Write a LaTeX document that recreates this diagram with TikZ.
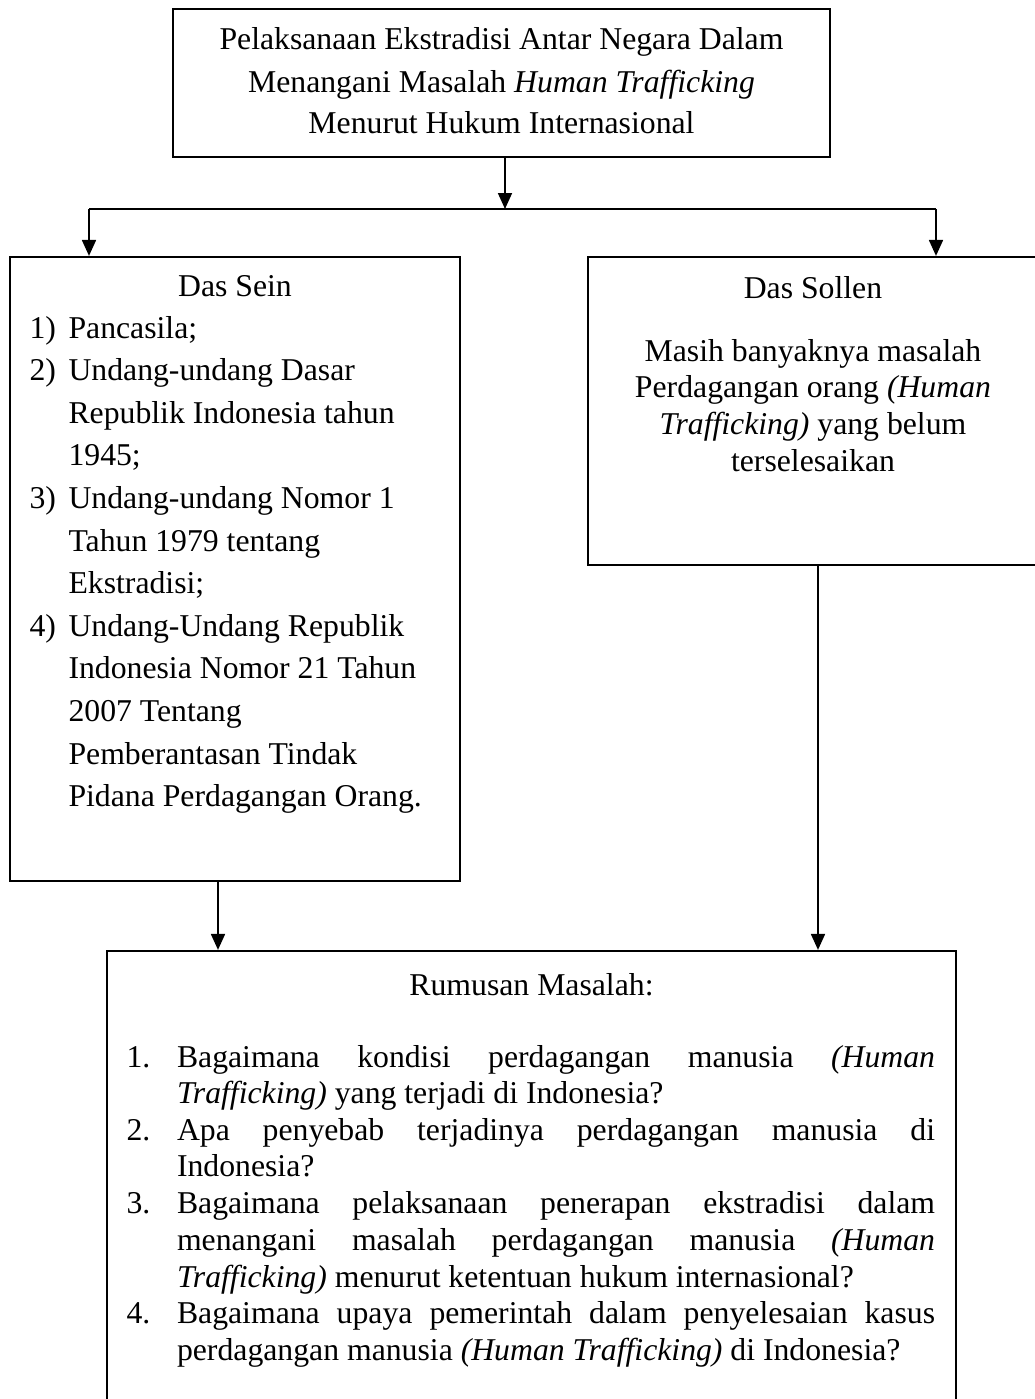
\documentclass[tikz,border=0pt]{standalone}
\usepackage{fontspec}
\setmainfont{Liberation Serif}
\usetikzlibrary{arrows.meta,fit}
\tikzset{
  box/.style={draw, line width=0.8pt, inner sep=0pt},
  conn/.style={line width=0.8pt},
  arr/.style={conn, -{Triangle[length=6pt,width=5.2pt]}},
  txt/.style={inner sep=0pt, anchor=base, font=\fontsize{11.9pt}{13.8pt}\selectfont},
  txtl/.style={txt, anchor=base west},
}
\begin{document}
\begin{tikzpicture}[x=0.375pt,y=-0.375pt]
\useasboundingbox (0,0) rectangle (1035,1399);
\clip (0,0) rectangle (1035,1399);
\fill[white] (0,0) rectangle (1035,1399);

% boxes
\node[box, fit={(173,9) (830,157)}] (top) {};
\node[box, fit={(10,257) (460,881)}] (left) {};
\node[box, fit={(588,257) (1038,565)}] (right) {};
\node[box, fit={(107,951) (956,1430)}] (bottom) {};

% top text
\node[txt] (t1) at (501.5,49) {Pelaksanaan Ekstradisi Antar Negara Dalam};
\node[txt] (t2) at (501.5,92) {Menangani Masalah \textit{Human Trafficking}};
\node[txt] (t3) at (501.5,133) {Menurut Hukum Internasional};

% left text
\node[txt] (ds) at (235,296) {Das Sein};
\node[txtl] (n1) at (29,338) {1)};
\node[txtl] (l1) at (68,338) {Pancasila;};
\node[txtl] (n2) at (29,380.6) {2)};
\node[txtl] (l2) at (68,380.6) {Undang-undang Dasar};
\node[txtl] (l3) at (68,423.2) {Republik Indonesia tahun};
\node[txtl] (l4) at (68,465.8) {1945;};
\node[txtl] (n3) at (29,508.4) {3)};
\node[txtl] (l5) at (68,508.4) {Undang-undang Nomor 1};
\node[txtl] (l6) at (68,551) {Tahun 1979 tentang};
\node[txtl] (l7) at (68,593.6) {Ekstradisi;};
\node[txtl] (n4) at (29,636.2) {4)};
\node[txtl] (l8) at (68,636.2) {Undang-Undang Republik};
\node[txtl] (l9) at (68,678.8) {Indonesia Nomor 21 Tahun};
\node[txtl] (l10) at (68,721.4) {2007 Tentang};
\node[txtl] (l11) at (68,764) {Pemberantasan Tindak};
\node[txtl] (l12) at (68,806.6) {Pidana Perdagangan Orang.};

% right text
\node[txt] (dsl) at (813,298) {Das Sollen};
\node[txt] (r1) at (813,361) {Masih banyaknya masalah};
\node[txt] (r2) at (813,397.5) {Perdagangan orang \textit{(Human}};
\node[txt] (r3) at (813,434) {\textit{Trafficking)} yang belum};
\node[txt] (r4) at (813,471) {terselesaikan};

% bottom text
\node[txt] (rm) at (531.5,995) {Rumusan Masalah:};
\node[txtl] (m1) at (126,1067) {1.};
\node[txtl] (b1) at (176.5,1067) {\makebox[284.25pt][s]{Bagaimana kondisi perdagangan manusia \textit{(Human}}};
\node[txtl] (b2) at (176.5,1103.5) {\textit{Trafficking)} yang terjadi di Indonesia?};
\node[txtl] (m2) at (126,1140) {2.};
\node[txtl] (b3) at (176.5,1140) {\makebox[284.25pt][s]{Apa penyebab terjadinya perdagangan manusia di}};
\node[txtl] (b4) at (176.5,1176.5) {Indonesia?};
\node[txtl] (m3) at (126,1213) {3.};
\node[txtl] (b5) at (176.5,1213) {\makebox[284.25pt][s]{Bagaimana pelaksanaan penerapan ekstradisi dalam}};
\node[txtl] (b6) at (176.5,1250) {\makebox[284.25pt][s]{menangani masalah perdagangan manusia \textit{(Human}}};
\node[txtl] (b7) at (176.5,1287) {\textit{Trafficking)} menurut ketentuan hukum internasional?};
\node[txtl] (m4) at (126,1323) {4.};
\node[txtl] (b8) at (176.5,1323) {\makebox[284.25pt][s]{Bagaimana upaya pemerintah dalam penyelesaian kasus}};
\node[txtl] (b9) at (176.5,1360) {perdagangan manusia \textit{(Human Trafficking)} di Indonesia?};

% connectors
\coordinate (j) at (505,209);
\coordinate (jl) at (89,209);
\coordinate (jr) at (936,209);
\coordinate (la) at (218,0);
\coordinate (ra) at (818,0);
\draw[arr] (top.south -| j) -- (j);
\draw[conn] (jl) -- (jr);
\draw[arr] (jl) -- (jl |- left.north);
\draw[arr] (jr) -- (jr |- right.north);
\draw[arr] (la |- left.south) -- (la |- bottom.north);
\draw[arr] (ra |- right.south) -- (ra |- bottom.north);
\end{tikzpicture}
\end{document}
